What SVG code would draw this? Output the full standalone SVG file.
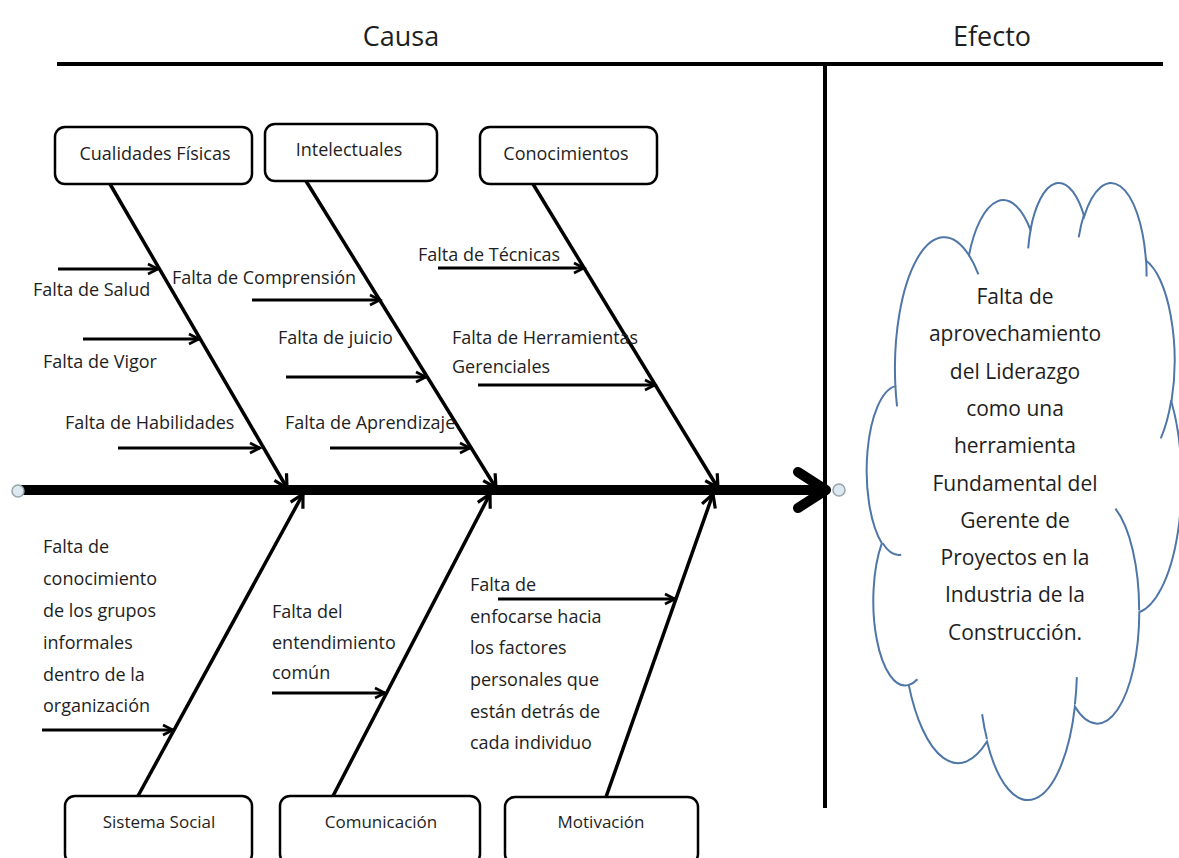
<svg xmlns="http://www.w3.org/2000/svg" width="1179" height="858" viewBox="0 0 1179 858">
  <defs>
    <style>
      text { font-family: "Open Sans", "Liberation Sans", sans-serif; fill: #1e1e1e; }
      .title { font-size: 27px; text-anchor: middle; }
      .cat rect { fill: #ffffff; stroke: #000000; stroke-width: 2.5; }
      .cat text { font-size: 17px; text-anchor: middle; }
      .cat.top text { font-size: 18px; }
      .cause text { font-size: 18px; }
      .bone { stroke: #000000; stroke-width: 3.5; fill: none; marker-end: url(#boneHead); }
      .twig { stroke: #000000; stroke-width: 2.8; fill: none; marker-end: url(#twigHead); }
      .frame { stroke: #000000; stroke-width: 4; fill: none; }
      .cloud { fill: #ffffff; stroke: #4f76a8; stroke-width: 2; }
      .cloud-hook { fill: none; stroke: #4f76a8; stroke-width: 2; }
      .effect text { font-size: 21px; text-anchor: middle; }
      .endpoint { fill: #dce9f0; stroke: #98a3aa; stroke-width: 1.5; }
    </style>
    <marker id="boneHead" markerUnits="userSpaceOnUse" markerWidth="20" markerHeight="20" refX="15" refY="9" orient="auto">
      <path d="M2,2 L15,9 L2,16" fill="none" stroke="#000000" stroke-width="3.2"/>
    </marker>
    <marker id="twigHead" markerUnits="userSpaceOnUse" markerWidth="16" markerHeight="16" refX="12" refY="7" orient="auto">
      <path d="M2,2 L12,7 L2,12" fill="none" stroke="#000000" stroke-width="2.6"/>
    </marker>
  </defs>

  <rect width="1179" height="858" fill="#ffffff"/>

  <!-- headings and frame -->
  <g id="headings">
    <text class="title" x="401" y="46">Causa</text>
    <text class="title" x="992" y="46">Efecto</text>
  </g>
  <g id="frame">
    <line class="frame" x1="57" y1="64" x2="1163" y2="64"/>
    <line class="frame" x1="825" y1="64" x2="825" y2="808"/>
  </g>

  <!-- connectors: spine, bones and cause arrows -->
  <g id="connectors">
    <line x1="20" y1="490" x2="822" y2="490" stroke="#000000" stroke-width="10"/>
    <path d="M798,472 L826,490 L798,508" fill="none" stroke="#000000" stroke-width="10" stroke-linecap="round" stroke-linejoin="round"/>

    <line class="bone" x1="110" y1="184" x2="287" y2="488"/>
    <line class="bone" x1="306" y1="181" x2="496" y2="488"/>
    <line class="bone" x1="533" y1="184" x2="718" y2="488"/>
    <line class="bone" x1="138" y1="796" x2="303" y2="494"/>
    <line class="bone" x1="333" y1="796" x2="490" y2="494"/>
    <line class="bone" x1="606" y1="797" x2="713" y2="494"/>

    <line class="twig" x1="58" y1="269" x2="158" y2="269"/>
    <line class="twig" x1="83" y1="339" x2="199" y2="339"/>
    <line class="twig" x1="118" y1="448" x2="260" y2="448"/>
    <line class="twig" x1="252" y1="300" x2="380" y2="300"/>
    <line class="twig" x1="286" y1="377" x2="426" y2="377"/>
    <line class="twig" x1="330" y1="448" x2="470" y2="448"/>
    <line class="twig" x1="438" y1="268" x2="584" y2="268"/>
    <line class="twig" x1="478" y1="385" x2="655" y2="385"/>
    <line class="twig" x1="42" y1="730" x2="173" y2="730"/>
    <line class="twig" x1="272" y1="693" x2="385" y2="693"/>
    <line class="twig" x1="498" y1="599" x2="675" y2="599"/>

    <circle class="endpoint" cx="18" cy="491" r="6"/>
    <circle class="endpoint" cx="839" cy="490" r="6"/>
  </g>

  <!-- category boxes -->
  <g id="cat-cualidades" class="cat top">
    <rect x="55" y="127" width="197" height="57" rx="10"/>
    <text x="155" y="160">Cualidades Físicas</text>
  </g>
  <g id="cat-intelectuales" class="cat top">
    <rect x="265" y="124" width="172" height="57" rx="10"/>
    <text x="349" y="156">Intelectuales</text>
  </g>
  <g id="cat-conocimientos" class="cat top">
    <rect x="480" y="127" width="177" height="57" rx="10"/>
    <text x="566" y="160">Conocimientos</text>
  </g>
  <g id="cat-sistema-social" class="cat">
    <rect x="65" y="796" width="187" height="68" rx="10"/>
    <text x="159" y="828">Sistema Social</text>
  </g>
  <g id="cat-comunicacion" class="cat">
    <rect x="280" y="796" width="200" height="68" rx="10"/>
    <text x="381" y="828">Comunicación</text>
  </g>
  <g id="cat-motivacion" class="cat">
    <rect x="505" y="797" width="193" height="67" rx="10"/>
    <text x="601" y="828">Motivación</text>
  </g>

  <!-- causes -->
  <g id="cause-salud" class="cause"><text x="33" y="296">Falta de Salud</text></g>
  <g id="cause-vigor" class="cause"><text x="43" y="368">Falta de Vigor</text></g>
  <g id="cause-habilidades" class="cause"><text x="65" y="429">Falta de Habilidades</text></g>
  <g id="cause-comprension" class="cause"><text x="172" y="284">Falta de Comprensión</text></g>
  <g id="cause-juicio" class="cause"><text x="278" y="344">Falta de juicio</text></g>
  <g id="cause-aprendizaje" class="cause"><text x="285" y="429">Falta de Aprendizaje</text></g>
  <g id="cause-tecnicas" class="cause"><text x="418" y="261">Falta de Técnicas</text></g>
  <g id="cause-herramientas" class="cause">
    <text x="452" y="344">Falta de Herramientas</text>
    <text x="452" y="373">Gerenciales</text>
  </g>
  <g id="cause-grupos" class="cause">
    <text x="43" y="553">Falta de</text>
    <text x="43" y="585">conocimiento</text>
    <text x="43" y="617">de los grupos</text>
    <text x="43" y="649">informales</text>
    <text x="43" y="681">dentro de la</text>
    <text x="43" y="712">organización</text>
  </g>
  <g id="cause-entendimiento" class="cause">
    <text x="272" y="618">Falta del</text>
    <text x="272" y="649">entendimiento</text>
    <text x="272" y="679">común</text>
  </g>
  <g id="cause-enfoque" class="cause">
    <text x="470" y="591">Falta de</text>
    <text x="470" y="623">enfocarse hacia</text>
    <text x="470" y="654">los factores</text>
    <text x="470" y="686">personales que</text>
    <text x="470" y="718">están detrás de</text>
    <text x="470" y="749">cada individuo</text>
  </g>

  <!-- effect cloud (drawn in a 43200-unit box, then scaled) -->
  <g id="effect" class="effect">
    <g transform="translate(867,180.9) scale(0.00728,0.01428)">
      <path class="cloud" vector-effect="non-scaling-stroke" d="M3900,14370 A6753,9190 0 0 1 14004,5202 A5333,7267 0 0 1 22455,3433 A4365,5945 0 0 1 29832,2482 A4857,6595 0 0 1 38318,5576 A5333,7273 0 0 1 41818,15460 A6775,9220 0 0 1 37404,30202 A5785,7867 0 0 1 28555,36812 A6752,9215 0 0 1 16480,39264 A7720,10543 0 0 1 5730,35294 A4360,5918 0 0 1 2040,25371 A4345,5945 0 0 1 3900,14370 Z"/>
      <path class="cloud-hook" vector-effect="non-scaling-stroke" d="M4693,26177 A4345,5945 0 0 1 2159,25380 M6928,34899 A4360,5918 0 0 1 5819,35281 M16478,39090 A6752,9215 0 0 1 15810,37349 M28827,34751 A6752,9215 0 0 1 28560,36661 M34129,22954 A5785,7867 0 0 1 37381,30090 M41798,15354 A5333,7273 0 0 1 40350,18030 M38324,5426 A4857,6595 0 0 1 38401,6690 M29078,3952 A4857,6595 0 0 1 29820,2340 M22141,4720 A4365,5945 0 0 1 22500,3331 M14000,5192 A6753,9190 0 0 1 15301,6540 M4127,15789 A6753,9190 0 0 1 3901,14370"/>
    </g>
    <text x="1015" y="304">Falta de</text>
    <text x="1015" y="341">aprovechamiento</text>
    <text x="1015" y="379">del Liderazgo</text>
    <text x="1015" y="416">como una</text>
    <text x="1015" y="453">herramienta</text>
    <text x="1015" y="491">Fundamental del</text>
    <text x="1015" y="528">Gerente de</text>
    <text x="1015" y="565">Proyectos en la</text>
    <text x="1015" y="602">Industria de la</text>
    <text x="1015" y="640">Construcción.</text>
  </g>
</svg>
